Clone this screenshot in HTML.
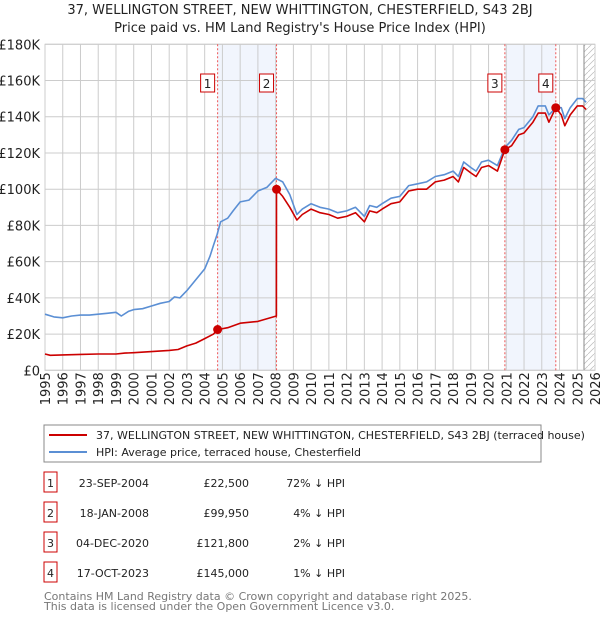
<!DOCTYPE html>
<html><head><meta charset="utf-8"><style>
body{margin:0;width:600px;height:620px;background:#fff;font-family:"DejaVu Sans","Liberation Sans",sans-serif;overflow:hidden}
svg{position:absolute;left:0;top:0}
</style></head><body>
<svg id="c" width="600" height="620"></svg>
<script>
const hpiYears=[1995,1995.5,1996,1996.5,1997,1997.5,1998,1998.5,1999,1999.3,1999.7,2000,2000.5,2001,2001.5,2002,2002.3,2002.6,2003,2003.5,2004,2004.3,2004.5,2004.7,2004.9,2005.3,2005.6,2006,2006.5,2007,2007.5,2008,2008.4,2008.8,2009.2,2009.5,2010,2010.5,2011,2011.5,2012,2012.5,2013,2013.3,2013.7,2014,2014.5,2015,2015.5,2016,2016.5,2017,2017.5,2018,2018.3,2018.6,2019,2019.3,2019.6,2020,2020.5,2020.92,2021.3,2021.7,2022,2022.5,2022.8,2023.2,2023.4,2023.8,2024.1,2024.3,2024.6,2025,2025.3,2025.5];
const hpiValues=[31,29.5,29,30,30.5,30.5,31,31.5,32,30,32.5,33.5,34,35.5,37,38,40.5,40,44,50,56,63,69,75,82,84,88,93,94,99,101,106,104,97,86,89,92,90,89,87,88,90,85,91,90,92,95,96,102,103,104,107,108,110,107,115,112,110,115,116,113,123,127,133,134,140,146,146,141,145,145,139,145,150,150,148];
const paidYears=[1995,1995.3,1996,1997,1998,1999,1999.5,2000,2001,2002,2002.5,2003,2003.5,2004,2004.5,2004.73,2005.3,2006,2007,2008.04,2008.05,2008.4,2008.8,2009.2,2009.5,2010,2010.5,2011,2011.5,2012,2012.5,2013,2013.3,2013.7,2014,2014.5,2015,2015.5,2016,2016.5,2017,2017.5,2018,2018.3,2018.6,2019,2019.3,2019.6,2020,2020.5,2020.92,2021.3,2021.7,2022,2022.5,2022.8,2023.2,2023.4,2023.79,2024.1,2024.3,2024.6,2025,2025.3,2025.5];
const paidValues=[9,8.3,8.5,8.8,9,9,9.5,9.7,10.3,11,11.5,13.5,15,17.5,20,22.5,23.5,26,27,30,99.95,96,90,83,86,89,87,86,84,85,87,82,88,87,89,92,93,99,100,100,104,105,107,104,112,109,107,112,113,110,121.8,124,130,131,137,142,142,137,145,141,135,141,146,146,144];
const saleYears=[2004.73,2008.05,2020.92,2023.79];
const saleValues=[22.5,99.95,121.8,145];
const yTicks=[0,20,40,60,80,100,120,140,160,180];
const xTicks=[1995,1996,1997,1998,1999,2000,2001,2002,2003,2004,2005,2006,2007,2008,2009,2010,2011,2012,2013,2014,2015,2016,2017,2018,2019,2020,2021,2022,2023,2024,2025,2026];
const NS='http://www.w3.org/2000/svg';
const svg=document.getElementById('c');
const X0=45,X1=595,Y0=370.3,Y1=44.3;
const xs=y=>X0+(y-1995)/(31)*(X1-X0);
const ys=v=>Y0-v/180*(Y0-Y1);
function mk(t,a,p){const e=document.createElementNS(NS,t);for(const k in a)e.setAttribute(k,a[k]);(p||svg).appendChild(e);return e;}
// shading
[[0,1],[2,3]].forEach(([a,b],i)=>{const r=mk('rect',{x:xs(saleYears[a]),y:Y1,width:xs(saleYears[b])-xs(saleYears[a]),height:Y0-Y1,fill:'#eef3fc',opacity:0.8});

});
// hatch
const defs=mk('defs',{});const pat=mk('pattern',{id:'h',width:6,height:6,patternUnits:'userSpaceOnUse'},defs);mk('path',{d:'M0,6 L6,0',stroke:'#bbb','stroke-width':0.7},pat);
const hz=mk('rect',{x:584,y:Y1,width:X1-584,height:Y0-Y1,fill:'url(#h)'});


// grid
yTicks.forEach(v=>{const l=mk('line',{x1:X0,x2:X1,y1:ys(v*1),y2:ys(v*1),stroke:'#ccc','stroke-width':1});


const t=mk('text',{x:X0-5,y:ys(v)+5,'text-anchor':'end','font-size':13,fill:'#222'});t.textContent=v===0?'£0':'£'+v+'K';

});
xTicks.forEach(y=>{const l=mk('line',{x1:xs(y),x2:xs(y),y1:Y1,y2:Y0,stroke:'#ccc','stroke-width':1});


const t=mk('text',{transform:`translate(${xs(y)+5},${Y0+35}) rotate(-90)`,'font-size':13,fill:'#222'});t.textContent=y;

});
mk('line',{x1:584,x2:584,y1:Y1,y2:Y0,stroke:'#888','stroke-width':1});
mk('rect',{x:X0,y:Y1,width:X1-X0,height:Y0-Y1,fill:'none',stroke:'#ccc'});
// sale vlines + labels
saleYears.forEach((y,i)=>{const l=mk('line',{x1:xs(y),x2:xs(y),y1:Y1,y2:Y0,stroke:'#e55','stroke-width':1,'stroke-dasharray':'2,2'});


const g=mk('g',{});


mk('rect',{x:xs(y)-17,y:74,width:14,height:18,fill:'#fff',stroke:'#c00'},g);
const t=mk('text',{x:xs(y)-10,y:88,'text-anchor':'middle','font-size':12,fill:'#222'},g);t.textContent=i+1;});
function line(xa,va,col,name){const d=xa.map((x,i)=>(i?'L':'M')+xs(x).toFixed(1)+','+ys(va[i]).toFixed(1)).join('');
const p=mk('path',{d,fill:'none',stroke:col,'stroke-width':1.6,'stroke-linejoin':'round'});

}
line(hpiYears,hpiValues,'#5b8fd4','hpi-line');
line(paidYears,paidValues,'#cc0000','price-paid-line');
saleYears.forEach((y,i)=>{const c=mk('circle',{cx:xs(y),cy:ys(saleValues[i]),r:4.5,fill:'#cc0000'});

});
// title
[['37, WELLINGTON STREET, NEW WHITTINGTON, CHESTERFIELD, S43 2BJ',14],["Price paid vs. HM Land Registry's House Price Index (HPI)",32]].forEach(([s,y],i)=>{const t=mk('text',{x:300,y,'text-anchor':'middle','font-size':13,fill:'#222'});t.textContent=s;

});
// legend
const lg=mk('g',{});


mk('rect',{x:44,y:425,width:497,height:37,fill:'#fff',stroke:'#888'},lg);
mk('line',{x1:49,x2:87,y1:435,y2:435,stroke:'#cc0000','stroke-width':2},lg);
mk('line',{x1:49,x2:87,y1:452,y2:452,stroke:'#5b8fd4','stroke-width':2},lg);
let t=mk('text',{x:96,y:439,'font-size':11,fill:'#222'},lg);t.textContent='37, WELLINGTON STREET, NEW WHITTINGTON, CHESTERFIELD, S43 2BJ (terraced house)';
t=mk('text',{x:96,y:456,'font-size':11,fill:'#222'},lg);t.textContent='HPI: Average price, terraced house, Chesterfield';
// table
const rows=[['23-SEP-2004','£22,500','72% ↓ HPI'],['18-JAN-2008','£99,950','4% ↓ HPI'],['04-DEC-2020','£121,800','2% ↓ HPI'],['17-OCT-2023','£145,000','1% ↓ HPI']];
rows.forEach((r,i)=>{const y=483+i*30;const g=mk('g',{});


mk('rect',{x:44,y:y-11,width:13,height:20,fill:'#fff',stroke:'#c00'},g);
let tt=mk('text',{x:50.5,y:y+4,'text-anchor':'middle','font-size':11,fill:'#222'},g);tt.textContent=i+1;
[[149,r[0]],[249,r[1]],[345,r[2]]].forEach(([x,s])=>{const q=mk('text',{x,y:y+4,'text-anchor':'end','font-size':11,fill:'#222'},g);q.textContent=s;});});
[['Contains HM Land Registry data © Crown copyright and database right 2025.',600],['This data is licensed under the Open Government Licence v3.0.',610]].forEach(([s,y],i)=>{const q=mk('text',{x:44,y,'font-size':11,fill:'#777'});q.textContent=s;

});
</script>
</body></html>
